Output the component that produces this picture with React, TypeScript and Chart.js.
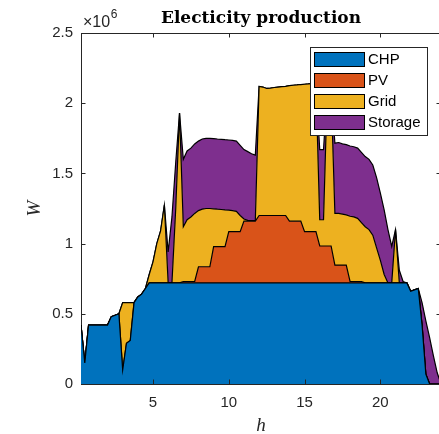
import { useEffect, useRef } from "react";
import { Chart, registerables } from "chart.js";

Chart.register(...registerables);

// time of day in hours (15-minute steps)
const hours = [
  0.25, 0.5, 0.75, 1, 1.25, 1.5, 1.75, 2, 2.25, 2.5, 2.75, 3,
  3.25, 3.5, 3.75, 4, 4.25, 4.5, 4.75, 5, 5.25, 5.5, 5.75, 6,
  6.25, 6.5, 6.75, 7, 7.25, 7.5, 7.75, 8, 8.25, 8.5, 8.75, 9,
  9.25, 9.5, 9.75, 10, 10.25, 10.5, 10.75, 11, 11.25, 11.5, 11.75, 12,
  12.25, 12.5, 12.75, 13, 13.25, 13.5, 13.75, 14, 14.25, 14.5, 14.75, 15,
  15.25, 15.5, 15.75, 16, 16.25, 16.5, 16.75, 17, 17.25, 17.5, 17.75, 18,
  18.25, 18.5, 18.75, 19, 19.25, 19.5, 19.75, 20, 20.25, 20.5, 20.75, 21,
  21.25, 21.5, 21.75, 22, 22.25, 22.5, 22.75, 23, 23.25, 23.5, 23.75, 24,
];

// power in MW (axis shows x10^6 W)
const chp = [
  0.42, 0.15, 0.42, 0.42, 0.42, 0.42, 0.42, 0.42, 0.48, 0.49, 0.5, 0.1,
  0.29, 0.31, 0.58, 0.62, 0.64, 0.68, 0.72, 0.72, 0.72, 0.72, 0.72, 0.72,
  0.72, 0.72, 0.72, 0.72, 0.72, 0.72, 0.72, 0.72, 0.72, 0.72, 0.72, 0.72,
  0.72, 0.72, 0.72, 0.72, 0.72, 0.72, 0.72, 0.72, 0.72, 0.72, 0.72, 0.72,
  0.72, 0.72, 0.72, 0.72, 0.72, 0.72, 0.72, 0.72, 0.72, 0.72, 0.72, 0.72,
  0.72, 0.72, 0.72, 0.72, 0.72, 0.72, 0.72, 0.72, 0.72, 0.72, 0.72, 0.72,
  0.72, 0.72, 0.72, 0.72, 0.72, 0.72, 0.72, 0.72, 0.72, 0.72, 0.72, 0.72,
  0.72, 0.72, 0.72, 0.66, 0.67, 0.68, 0.42, 0.07, 0, 0, 0, 0,
];

const pv = [
  0, 0, 0, 0, 0, 0, 0, 0, 0, 0, 0, 0,
  0, 0, 0, 0, 0, 0, 0, 0, 0, 0, 0, 0,
  0, 0, 0, 0.01, 0.01, 0.01, 0.01, 0.115, 0.115, 0.115, 0.115, 0.258,
  0.258, 0.258, 0.258, 0.365, 0.365, 0.365, 0.365, 0.44, 0.44, 0.44, 0.44, 0.48,
  0.48, 0.48, 0.48, 0.48, 0.48, 0.48, 0.48, 0.44, 0.44, 0.44, 0.44, 0.365,
  0.365, 0.365, 0.365, 0.263, 0.263, 0.263, 0.263, 0.127, 0.127, 0.127, 0.127, 0.01,
  0.01, 0.01, 0.01, 0, 0, 0, 0, 0, 0, 0, 0, 0,
  0, 0, 0, 0, 0, 0, 0, 0, 0, 0, 0, 0,
];

const grid = [
  0, 0, 0, 0, 0, 0, 0, 0, 0, 0, 0, 0.48,
  0.29, 0.27, 0, 0, 0, 0, 0.06, 0.15, 0.28, 0.37, 0.555, 0,
  0, 0.53, 1.21, 0.39, 0.44, 0.46, 0.485, 0.4, 0.41, 0.415, 0.415, 0.27,
  0.267, 0.265, 0.262, 0.153, 0.15, 0.145, 0.115, 0.015, 0.005, 0.003, 0.003, 0.92,
  0.915, 0.905, 0.908, 0.912, 0.915, 0.918, 0.92, 0.965, 0.968, 0.97, 0.973, 1.05,
  1.052, 1.055, 1.055, 0.187, 0.187, 1.12, 1.12, 0.368, 0.368, 0.363, 0.358, 0.465,
  0.46, 0.45, 0.42, 0.4, 0.38, 0.34, 0.25, 0.16, 0.06, 0, 0, 0.38,
  0, 0, 0, 0, 0, 0, 0, 0, 0, 0, 0, 0,
];

const storage = [
  0, 0, 0, 0, 0, 0, 0, 0, 0, 0, 0, 0,
  0, 0, 0, 0, 0, 0, 0, 0, 0, 0, 0, 0.22,
  0.47, 0.33, 0, 0.48, 0.49, 0.49, 0.495, 0.495, 0.5, 0.5, 0.5, 0.5,
  0.5, 0.5, 0.5, 0.5, 0.5, 0.5, 0.5, 0.495, 0.49, 0.477, 0.467, 0,
  0, 0, 0, 0, 0, 0, 0, 0, 0, 0, 0, 0,
  0, 0, 0, 0.5, 0.5, 0, 0, 0.5, 0.505, 0.5, 0.5, 0.5,
  0.5, 0.5, 0.5, 0.5, 0.5, 0.5, 0.5, 0.48, 0.46, 0.38, 0.26, 0,
  0.09, 0.01, 0, 0, 0, 0, 0.16, 0.38, 0.33, 0.2, 0.08, 0,
];

const seriesNames = ["CHP", "PV", "Grid", "Storage"];
const seriesColors = ["#0072BD", "#D95319", "#EDB120", "#7E2F8E"];
const xTickValues = [5, 10, 15, 20];
const yTickValues = [0, 0.5, 1, 1.5, 2, 2.5];
const UNIT = 1e6;

const AXIS = "#262626";
const SANS = "'Liberation Sans', Arial, sans-serif";

const overlay = {
  id: "matlabOverlay",
  afterDraw(chart: any) {
    const { ctx, chartArea } = chart;
    const { left, right, top, bottom } = chartArea;
    const xs = chart.scales.x;
    const ys = chart.scales.y;
    ctx.save();
    // box top / right
    ctx.strokeStyle = AXIS;
    ctx.lineWidth = 1;
    ctx.beginPath();
    ctx.moveTo(left, top + 0.5);
    ctx.lineTo(right, top + 0.5);
    ctx.moveTo(right - 0.5, top);
    ctx.lineTo(right - 0.5, bottom);
    ctx.stroke();
    // inward ticks
    const tl = 4.5;
    ctx.beginPath();
    xTickValues.forEach((v) => {
      const px = Math.round(xs.getPixelForValue(v)) + 0.5;
      ctx.moveTo(px, bottom);
      ctx.lineTo(px, bottom - tl);
      ctx.moveTo(px, top);
      ctx.lineTo(px, top + tl);
    });
    yTickValues.forEach((v) => {
      const py = Math.round(ys.getPixelForValue(v * UNIT)) + 0.5;
      ctx.moveTo(left, py);
      ctx.lineTo(left + tl, py);
      ctx.moveTo(right, py);
      ctx.lineTo(right - tl, py);
    });
    ctx.stroke();

    // title
    ctx.fillStyle = "#000";
    ctx.textAlign = "center";
    ctx.textBaseline = "alphabetic";
    ctx.font = "bold 17px 'DejaVu Serif'";
    ctx.fillText("Electicity production", (left + right) / 2, 23);

    // exponent
    ctx.fillStyle = AXIS;
    ctx.textAlign = "left";
    ctx.font = `16px ${SANS}`;
    ctx.fillText("\u00d710", 83, 27);
    const w = ctx.measureText("\u00d710").width;
    ctx.font = `12px ${SANS}`;
    ctx.fillText("6", 83 + w + 0.5, 18);

    // axis labels
    ctx.font = "italic 19px 'Liberation Serif'";
    ctx.textAlign = "center";
    ctx.fillText("h", (left + right) / 2, 431);
    ctx.save();
    ctx.translate(40, (top + bottom) / 2);
    ctx.rotate(-Math.PI / 2);
    ctx.fillText("W", 0, 0);
    ctx.restore();

    // legend
    const lx = 310.5, ly = 47.5, lw = 117, lh = 88;
    ctx.fillStyle = "#fff";
    ctx.fillRect(lx, ly, lw, lh);
    ctx.strokeStyle = AXIS;
    ctx.lineWidth = 1;
    ctx.strokeRect(lx, ly, lw, lh);
    ctx.font = `15px ${SANS}`;
    ctx.textAlign = "left";
    ctx.textBaseline = "middle";
    seriesNames.forEach((name, k) => {
      const py = 52 + k * 21;
      ctx.fillStyle = seriesColors[k];
      ctx.fillRect(314, py, 51, 15);
      ctx.strokeStyle = "#000";
      ctx.strokeRect(314.5, py + 0.5, 50, 14);
      ctx.fillStyle = "#000";
      ctx.fillText(name, 368, py + 8);
    });
    ctx.restore();
  },
};

export default function App() {
  const ref = useRef<HTMLCanvasElement>(null);
  useEffect(() => {
    document.body.style.margin = "0";
    const canvas = ref.current;
    if (!canvas) return;
    const series = [chp, pv, grid, storage];
    const chart = new Chart(canvas, {
      type: "line",
      data: {
        datasets: series.map((s, k) => ({
          label: seriesNames[k],
          data: hours.map((h, i) => ({ x: h, y: s[i] * UNIT })),
          backgroundColor: seriesColors[k],
          borderColor: "#000",
          borderWidth: 1.2,
          pointRadius: 0,
          fill: k === 0 ? "origin" : "-1",
          tension: 0,
        })),
      },
      options: {
        animation: false,
        responsive: false,
        events: [],
        layout: { padding: { top: 33, right: 2, left: 0, bottom: 0 } },
        plugins: {
          legend: { display: false },
          title: { display: false },
          tooltip: { enabled: false },
        },
        scales: {
          x: {
            type: "linear",
            min: 0.25,
            max: 24,
            afterBuildTicks: (s: any) => {
              s.ticks = xTickValues.map((v) => ({ value: v }));
            },
            afterFit: (s: any) => {
              s.height = 50;
            },
            grid: { display: true, drawOnChartArea: false, drawTicks: false },
            border: { display: true, color: AXIS, width: 1 },
            ticks: {
              padding: 10,
              color: AXIS,
              font: { family: SANS, size: 15 },
              maxRotation: 0,
              autoSkip: false,
            },
          },
          y: {
            type: "linear",
            stacked: true,
            min: 0,
            max: 2.5 * UNIT,
            afterBuildTicks: (s: any) => {
              s.ticks = yTickValues.map((v) => ({ value: v * UNIT }));
            },
            afterFit: (s: any) => {
              s.width = 81;
            },
            grid: { display: true, drawOnChartArea: false, drawTicks: false },
            border: { display: true, color: AXIS, width: 1 },
            ticks: {
              padding: 8,
              color: AXIS,
              font: { family: SANS, size: 15 },
              callback: (v: any) => String(Number(v) / UNIT),
            },
          },
        },
      },
      plugins: [overlay],
    });
    return () => chart.destroy();
  }, []);
  return (
    <div style={{ width: 439, height: 434, overflow: "hidden", position: "relative" }}>
      <canvas ref={ref} width={443} height={434} style={{ display: "block" }} />
    </div>
  );
}
